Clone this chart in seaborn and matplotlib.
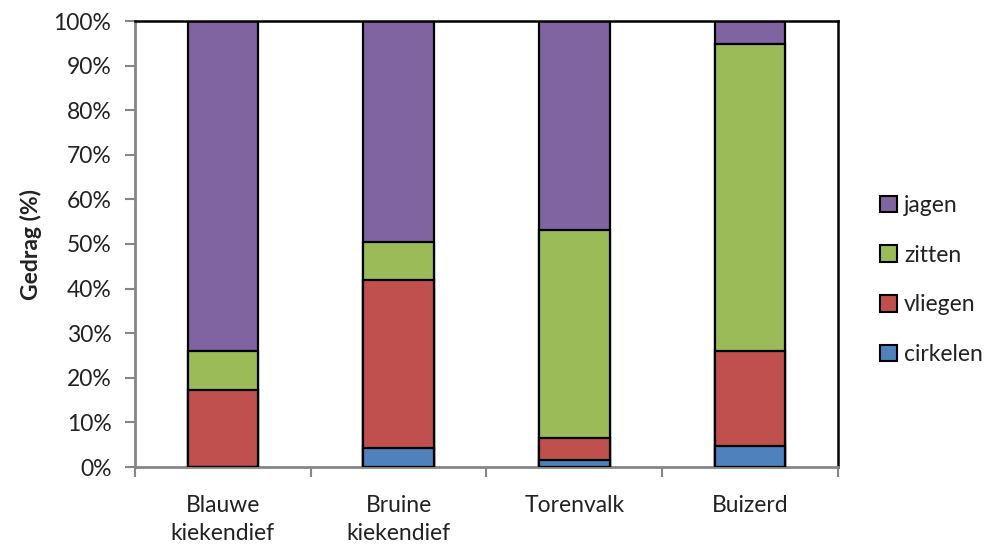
import matplotlib
matplotlib.use("Agg")
import matplotlib.pyplot as plt
import seaborn as sns
import numpy as np
import pandas as pd
from matplotlib.patches import Patch

categories = ["Blauwe\nkiekendief", "Bruine\nkiekendief", "Torenvalk", "Buizerd"]
cirkelen = [0.0, 4.3, 1.6, 4.7]
vliegen = [17.3, 37.6, 5.0, 21.4]
zitten = [8.8, 8.6, 46.6, 68.7]
jagen = [73.9, 49.5, 46.8, 5.2]

series_names = ["cirkelen", "vliegen", "zitten", "jagen"]
colors = {"cirkelen": "#4F81BD", "vliegen": "#C0504D", "zitten": "#9BBB59", "jagen": "#8064A2"}

sns.set_theme(style="white")
plt.rcParams["font.family"] = ["Lato", "DejaVu Sans"]

FS = 16.5
fig = plt.figure(figsize=(10.03, 5.48), dpi=100)
ax = fig.add_axes([135/1003, 1-467/548, (838-135)/1003, (467-21)/548])

vals = {"cirkelen": cirkelen, "vliegen": vliegen, "zitten": zitten, "jagen": jagen}
cum = np.cumsum([vals[s] for s in series_names], axis=0)

# draw cumulative totals from top series down so lower segments overlay
for i in reversed(range(len(series_names))):
    name = series_names[i]
    df = pd.DataFrame({"cat": categories, "val": cum[i]})
    sns.barplot(data=df, x="cat", y="val", color=colors[name], width=0.4,
                edgecolor="black", linewidth=1.6, saturation=1, ax=ax, zorder=2 + (3 - i))

ax.set_xlim(-0.5, 3.5)
ax.set_ylim(0, 100)
ax.set_yticks(np.arange(0, 101, 10))
ax.set_yticklabels([f"{v}%" for v in range(0, 101, 10)], fontsize=FS, color="#222222")
ax.set_xticks(range(4))
ax.set_xticklabels(categories, fontsize=FS, color="#222222", linespacing=1.4, va="top")
ax.tick_params(axis="x", length=0, pad=20)
# boundary ticks
ax.set_xticks([-0.5, 0.5, 1.5, 2.5, 3.5], minor=True)
ax.tick_params(axis="x", which="minor", length=7, color="#868686", width=1.5, direction="out", bottom=True)
ax.tick_params(axis="y", length=7, color="#868686", width=1.5, direction="out", left=True, pad=10)
ax.set_xlabel("")
ax.set_ylabel("Gedrag (%)", fontsize=FS, fontweight="bold", color="#222222", labelpad=8)

for s in ["left", "bottom"]:
    ax.spines[s].set_color("#868686")
    ax.spines[s].set_linewidth(2)
for s in ["top", "right"]:
    ax.spines[s].set_color("black")
    ax.spines[s].set_linewidth(1.8)
ax.grid(False)

handles = [Patch(facecolor=colors[n], edgecolor="black", linewidth=1.5, label=n) for n in reversed(series_names)]
leg = fig.legend(handles=handles, loc="center left", bbox_to_anchor=(871/1003, 1-280/548),
                 frameon=False, fontsize=FS, labelspacing=1.25, handlelength=0.75, handleheight=0.75,
                 handletextpad=0.3, borderaxespad=0)
for t in leg.get_texts():
    t.set_color("#222222")

fig.savefig("out.png", dpi=100)
